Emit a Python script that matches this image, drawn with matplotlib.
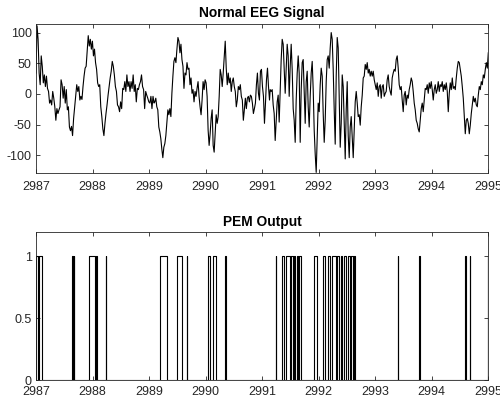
import numpy as np
import matplotlib
matplotlib.use("Agg")
import matplotlib.pyplot as plt

plt.rcParams['font.family'] = ['Liberation Sans', 'DejaVu Sans']
plt.rcParams['axes.unicode_minus'] = False

eeg_seg1 = [34, 111, 89, 34, 15, 62, 45, 18, 31, 12, 29, 9, 4, -15, -10, -18, 4, -7,
            -21, -43, -24, -32, -26, -21, 23, 15, -7, 12, -15, 7, -26, -21, -54, -60,
            -53, -68, -40, -21, -4, 15, 4, 12, -10, -4, -9, 12, 29, 42, 45, 70, 95, 78,
            89, 73, 86, 62, 73, 51, 40, 18, 12, 15, -21, -37, -57, -68, -48, -32, -18,
            -2, 12, 26, 37, 53, 45, 31, 12, 4, -18, -21, -29, -13, -24, 9, 7, 20, 4, 31,
            12, 20, 4, 20, 9, 31, 4, 15, -13, 9, 7, 15, 20, 31, 12, 7, -24, 4, -2, -7,
            -13, -15, -4, -24, -4, -15]
eeg_seg2 = [-13, -7, -21, -26, -54, -62, -73, -90, -104, -87, -81, -68, -48, -26, -34,
            -24, -37, 1, 29, 53, 59, 51, 73, 92, 86, 67, 81, 56, 45, 9, 34, 31, 51, 40,
            42, 15, 26, 1, 7, -13, 4, -4, 9, 20, -4, -21, -34, -10, 20, 7, 23, 18, -4,
            -59, -84, -65, -40, -26, -84, -95, -65, -34, -48, -37, -4, 40, 31, 12, 34,
            59, 86, 42, 15, 34, 18, 26, 4, 20, 26, 12, 4, -21, -10, 12, 7, 15, -4, -10,
            -43, -26, -7, -24, -7, -4, -13, -2, -4, -15, -32, -24, -15, 15, 34, 1, -10,
            37, 40, 12, -4, -48, -15, 23, 42, 12, -10]
eeg_seg3 = [7, 4, 7, -18, -32, -76, -43, -13, -2, -46, 7, 56, 89, 81, 40, 1, 40, 81, 62,
            -4, 45, 81, 40, -24, -43, -79, -10, 34, 62, 34, -79, 7, 51, 56, 1, -48, 20,
            37, -21, -54, -4, 34, 53, 7, -59, -98, -128, -70, -15, -29, 15, 42, 29, -32,
            -79, -43, 20, 56, 62, 42, 75, 100, 89, 40, -26, -82, 29, 92, 75, -4, -87,
            -48, 31, 12, -48, -106, -26, 20, -68, -104, -54, -37, -70, -104, -59, -13, 4,
            -15, -37, -34, -51, -21, -2, 26, 29, 48, 40, 51, 34, 40, 29, 37, 29, 37, 23,
            15, 7, 18, -4, 12, 15, -7, 12, 15, -4, 1]
eeg_seg4 = [4, 23, 31, 12, 4, -2, 26, 34, 40, 37, 56, 62, 42, 15, 7, 12, -10, -29, -2, 4,
            -18, -2, -7, 7, 15, 26, 20, 4, -15, -26, -43, -48, -57, -62, -43, -24, -15,
            -29, -10, 9, 7, 15, 1, 18, 9, 20, 7, -10, 7, 15, 1, 7, 20, 4, 15, 12, 20, 4,
            15, 7, 18, 4, -29, 1, 18, 7, 26, 9, 12, 7, 26, 42, 53, 51, 40, 29, 12, -7,
            -35, -65, -43, -40, -48, -65, -51, -32, -18, -4, -13, -7, -18, -21, -2, 12,
            7, 20, 15, 31, 26, 40, 51, 42, 67]
eeg_spans = [(2987.000, 2989.088), (2989.101, 2991.130),
             (2991.142, 2993.177), (2993.194, 2995.000)]

# PEM Ausgang: Intervalle mit Wert 1 (Beginn, Ende)
pem_on = [2987.008, 2987.055, 2987.640, 2987.670, 2987.943, 2988.055, 2988.235,
          2989.185, 2989.500, 2989.662, 2990.050, 2990.125, 2990.346,
          2991.237, 2991.343, 2991.425, 2991.510, 2991.555, 2991.612, 2991.655,
          2991.921, 2992.085, 2992.156, 2992.244, 2992.332, 2992.398, 2992.451,
          2992.517, 2992.575, 2992.620, 2993.396, 2993.776, 2994.596, 2994.676,
          2994.990]
pem_off = [2987.030, 2987.110, 2987.648, 2987.678, 2988.040, 2988.075, 2988.245,
           2989.310, 2989.584, 2989.672, 2990.070, 2990.180, 2990.356,
           2991.247, 2991.390, 2991.484, 2991.540, 2991.585, 2991.640, 2991.685,
           2991.968, 2992.115, 2992.204, 2992.304, 2992.363, 2992.421, 2992.487,
           2992.545, 2992.605, 2992.640, 2993.404, 2993.784, 2994.604, 2994.684,
           2995.000]

xticks = list(range(2987, 2996))

# Zeitachse EEG
eeg_t = np.concatenate([np.linspace(a, b, len(s)) for (a, b), s in
                        zip(eeg_spans, [eeg_seg1, eeg_seg2, eeg_seg3, eeg_seg4])])
eeg_v = np.concatenate([eeg_seg1, eeg_seg2, eeg_seg3, eeg_seg4])

# Rechtecksignal PEM
pem_t = [2987.0]
pem_v = [0]
for a, b in zip(pem_on, pem_off):
    pem_t += [a, a, b, b]
    pem_v += [0, 1, 1, 0]
pem_t.append(2995.0)
pem_v.append(0)

fig = plt.figure(figsize=(5, 4), dpi=100)
ax1 = fig.add_axes([0.072, 0.5675, 0.9046, 0.3725])
ax2 = fig.add_axes([0.072, 0.0493, 0.9046, 0.3715])

grau = '#262626'
for ax in (ax1, ax2):
    ax.set_xlim(2987, 2995)
    ax.set_xticks(xticks)
    ax.ticklabel_format(axis='x', useOffset=False)
    ax.tick_params(direction='in', top=True, right=True, length=3.2, width=0.6,
                   labelsize=9, colors=grau)
    for sp in ax.spines.values():
        sp.set_linewidth(0.6)
        sp.set_color(grau)

ax1.plot(eeg_t, eeg_v, color='black', lw=0.8)
ax1.set_ylim(-129, 114)
ax1.set_yticks([-100, -50, 0, 50, 100])
ax1.tick_params(axis='x', pad=6)
ax1.tick_params(axis='y', pad=3)
ax1.set_title('Normal EEG Signal', fontsize=9.9, fontweight='bold', pad=5)

ax2.plot(pem_t, pem_v, color='black', lw=0.8)
ax2.set_ylim(0, 1.2)
ax2.set_yticks([0, 0.5, 1])
ax2.set_yticklabels(['0', '0.5', '1'])
ax2.tick_params(axis='x', pad=4)
ax2.tick_params(axis='y', pad=3)
ax2.set_title('PEM Output', fontsize=9.9, fontweight='bold', pad=4)

fig.savefig('out.png', dpi=100)
